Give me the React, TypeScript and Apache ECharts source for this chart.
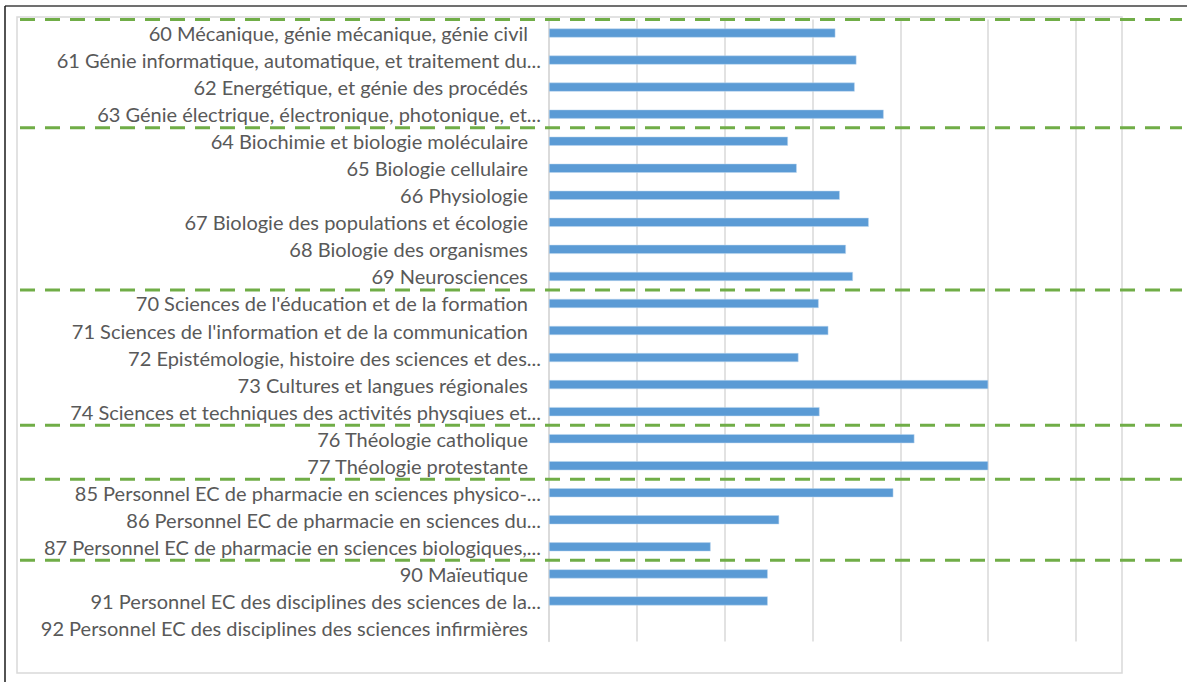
import React, { useEffect, useRef } from "react";
import * as echarts from "echarts";

const categories: string[] = [
  "60 Mécanique, génie mécanique, génie civil",
  "61 Génie informatique, automatique, et traitement du...",
  "62 Energétique, et génie des procédés",
  "63 Génie électrique, électronique, photonique, et...",
  "64 Biochimie et biologie moléculaire",
  "65 Biologie cellulaire",
  "66 Physiologie",
  "67 Biologie des populations et écologie",
  "68 Biologie des organismes",
  "69 Neurosciences",
  "70 Sciences de l'éducation et de la formation",
  "71 Sciences de l'information et de la communication",
  "72 Epistémologie, histoire des sciences et des...",
  "73 Cultures et langues régionales",
  "74 Sciences et techniques des activités physqiues et...",
  "76 Théologie catholique",
  "77 Théologie protestante",
  "85 Personnel EC de pharmacie en sciences physico-...",
  "86 Personnel EC de pharmacie en sciences du...",
  "87 Personnel EC de pharmacie en sciences biologiques,...",
  "90 Maïeutique",
  "91 Personnel EC des disciplines des sciences de la...",
  "92 Personnel EC des disciplines des sciences infirmières",
];

const values: (number | null)[] = [
  3.26, 3.5, 3.48, 3.81, 2.72, 2.82, 3.31, 3.64, 3.38, 3.46, 3.07, 3.18, 2.84,
  5.0, 3.08, 4.16, 5.0, 3.92, 2.62, 1.84, 2.49, 2.49, null,
];

// indices of categories that start a new group (dashed separator above them)
const groupStarts: number[] = [0, 4, 10, 15, 17, 20];

const xMin = 0;
const xMax = 6;
const xInterval = 1;

export default function App() {
  const ref = useRef<HTMLDivElement>(null);

  useEffect(() => {
    if (!ref.current) return;
    const chart = echarts.init(ref.current, null, { renderer: "svg" });
    const labelFont = "Lato";
    const catData = categories.map((c) => ({
      value: c,
      textStyle: {
        padding: c.endsWith("...") ? [0, 0, 0, 0] : [0, 13, 0, 0],
      },
    }));
    chart.setOption({
      animation: false,
      grid: { left: 549, right: 111, top: 19.5, bottom: 40.5, containLabel: false },
      xAxis: {
        type: "value",
        min: xMin,
        max: xMax,
        interval: xInterval,
        axisLabel: { show: false },
        axisLine: { show: false },
        axisTick: { show: false },
        splitLine: { show: true, lineStyle: { color: "#D9D9D9", width: 1.5 } },
      },
      yAxis: {
        type: "category",
        inverse: true,
        data: catData,
        axisTick: { show: false },
        axisLine: { show: true, lineStyle: { color: "#D9D9D9", width: 1.5 } },
        axisLabel: {
          margin: 8,
          color: "#595959",
          fontFamily: labelFont,
          fontSize: 20,
          interval: 0,
        },
      },
      series: [
        {
          type: "bar",
          data: values,
          barWidth: 9,
          itemStyle: { color: "#5B9BD5", borderColor: "#BDD7EE", borderWidth: 0.5 },
        },
      ],
    });

    const p0 = chart.convertToPixel({ yAxisIndex: 0 }, 0) as number;
    const p1 = chart.convertToPixel({ yAxisIndex: 0 }, 1) as number;
    const band = p1 - p0;
    const sepLines = groupStarts.map((i) => {
      const y = (chart.convertToPixel({ yAxisIndex: 0 }, i) as number) - band / 2;
      return {
        type: "line",
        z: 100,
        shape: { x1: 20, y1: y, x2: 1182, y2: y },
        style: { stroke: "#70AD47", lineWidth: 3, lineDash: [15, 10] },
      };
    });

    chart.setOption({
      graphic: [
        {
          type: "rect",
          z: 1,
          shape: { x: 17, y: 17, width: 1105, height: 656 },
          style: { fill: "none", stroke: "#D9D9D9", lineWidth: 1.5 },
        },
        {
          type: "line",
          z: 1,
          shape: { x1: 5, y1: 6, x2: 1187, y2: 6 },
          style: { stroke: "#404040", lineWidth: 1.5 },
        },
        {
          type: "line",
          z: 1,
          shape: { x1: 5, y1: 6, x2: 5, y2: 682 },
          style: { stroke: "#1a1a1a", lineWidth: 1.5 },
        },
        ...sepLines,
      ],
    });

    return () => chart.dispose();
  }, []);

  return (
    <div
      ref={ref}
      style={{ position: "absolute", left: 0, top: 0, width: 1187, height: 682, background: "#fff" }}
    />
  );
}
